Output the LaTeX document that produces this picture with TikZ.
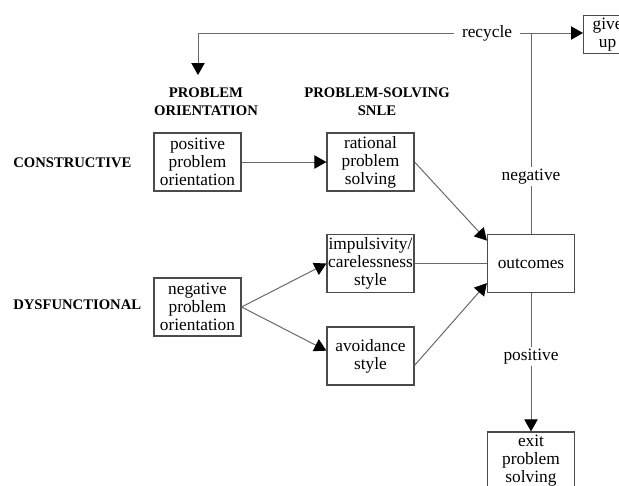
\documentclass[tikz,border=0pt]{standalone}
\usepackage{fontspec}
\setmainfont{Liberation Serif}
\usetikzlibrary{arrows.meta}
\definecolor{lngray}{RGB}{105,105,105}
\definecolor{bxgray}{RGB}{75,75,75}

\begin{document}
\begin{tikzpicture}
[x=0.75pt,y=-0.75pt
,bx/.style={draw=bxgray,line width=0.9pt,align=center,inner sep=0pt
  ,minimum width=65.25pt,minimum height=43.5pt,font=\fontsize{13}{13.5}\selectfont}
,hd/.style={align=center,inner sep=0pt,font=\fontsize{11}{13.5}\selectfont\bfseries}
,lbl/.style={fill=white,inner xsep=6pt,inner ysep=1.5pt,font=\fontsize{13}{13.5}\selectfont}
,ln/.style={draw=lngray,line width=0.75pt}
,ar/.style={ln,arrows={-Triangle[length=9pt,width=10pt,color=black]}}]
\clip (0,0) rectangle (619,486);
% headings
\node[hd] (hdor) at (206,102) {PROBLEM\\ORIENTATION};
\node[hd] (hdps) at (377,102) {PROBLEM-SOLVING\\SNLE};
\node[hd,anchor=west] (cons) at (13,163) {CONSTRUCTIVE};
\node[hd,anchor=west] (dysf) at (13,305) {DYSFUNCTIONAL};
% boxes
\node[bx] (ppo) at (197.5,162) {positive\\problem\\orientation};
\node[bx] (npo) at (197.5,307) {negative\\problem\\orientation};
\node[bx] (rps) at (370.5,162) {rational\\problem\\solving};
\node[bx] (ics) at (370.5,263.5) {impulsivity/\\carelessness\\style};
\node[bx] (avs) at (370.5,356) {avoidance\\style};
\node[bx] (outc) at (531,263.5) {outcomes};
\node[bx] (exit) at (531,461) {exit\\problem\\solving};
\node[bx,anchor=west,minimum width=36pt,minimum height=29pt] (gvup) at (583,34.5) {give\\up};
\coordinate (top) at (531,33);
\coordinate (back) at (198,33);
\coordinate (backtip) at (198,75);
% connectors
\draw[ar] (ppo) -- (rps);
\draw[ar] (rps.east) -- ([yshift=-5pt]outc.north west);
\draw[ln] (ics) -- (outc);
\draw[ar] ([yshift=-7pt]avs.east) -- ([yshift=7.5pt]outc.south west);
\draw[ar] (npo.east) -- (ics.west);
\draw[ar] (npo.east) -- ([yshift=4pt]avs.west);
\draw[ln] (outc) -- node[lbl,pos=0.285]{negative} (top);
\draw[ar] (top) -- (gvup.west |- top);
\draw[ar] (top) -- node[lbl,pos=0.132]{recycle} (back) -- (backtip);
\draw[ar] (outc) -- node[lbl,pos=0.46]{positive} (exit);
\end{tikzpicture}
\end{document}
